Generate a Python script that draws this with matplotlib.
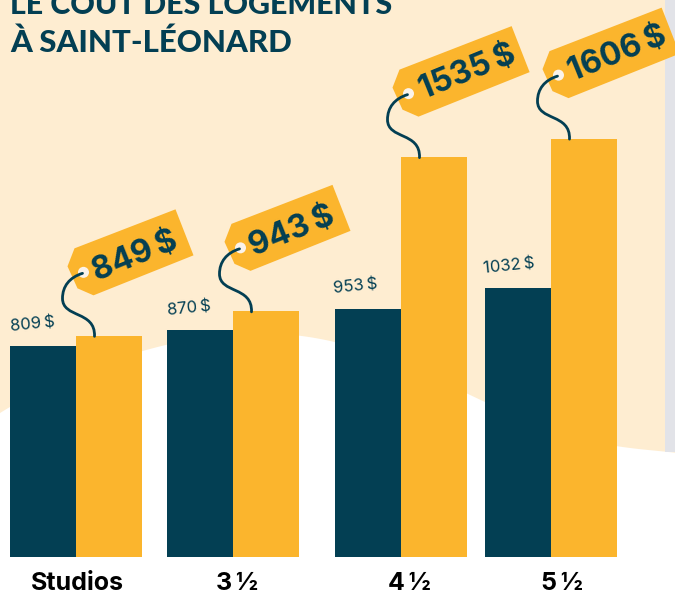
import numpy as np
import matplotlib
matplotlib.use('Agg')
import matplotlib.pyplot as plt
from matplotlib.patches import PathPatch, Polygon, Circle
from matplotlib.path import Path

categories = ['Studios', '3\u2009½', '4\u2009½', '5\u2009½']
loyer_2019 = [809, 870, 953, 1032]
loyer_marche = [849, 943, 1535, 1606]
labels_2019 = ['809\u2009$', '870\u2009$', '953\u2009$', '1032\u2009$']
labels_marche = ['849\u2009$', '943\u2009$', '1535\u2009$', '1606\u2009$']

DARK = '#033F53'
ORANGE = '#FBB52D'
CREAM = '#FEEDD1'
W, H = 675, 596
BASE = 557
SCALE = 0.2605  # pixels per dollar

group_x = np.array([76, 233, 401, 551])
bar_w = 66
cat_x = [77, 237, 409, 562]
small_x = [10, 167, 333, 483]
tag_length = [0, 0, 12, 12]

fig = plt.figure(figsize=(6.75, 5.96), dpi=100, facecolor='white')

# background, in pixels
bg = fig.add_axes([0, 0, 1, 1], zorder=0)
bg.set_xlim(0, W)
bg.set_ylim(H, 0)
bg.axis('off')

edge_x = [0, 10, 142, 167, 250, 299, 335, 467, 486, 617, 665, 675]
edge_y = [413, 407, 351, 345, 333, 336, 342, 393, 403, 446, 452, 452.5]
xx = np.linspace(0, 675, 200)
yy = np.polyval(np.polyfit(edge_x, edge_y, 7), xx)
bg.fill_between(xx, 0, yy, color=CREAM, lw=0)
bg.fill_between([665, 675], 0, 452, color='#E2E3E8', lw=0)

bg.text(10, 14, 'LE COÛT DES LOGEMENTS', family='Lato', weight='black', fontsize=21.9,
        color=DARK, va='baseline', ha='left')
bg.text(10, 52, 'À SAINT-LÉONARD', family='Lato', weight='black', fontsize=22.4,
        color=DARK, va='baseline', ha='left')

# bars
ax = fig.add_axes([0, (H - BASE) / H, 1, BASE / H], zorder=1)
ax.patch.set_alpha(0)
ax.set_xlim(0, W)
ax.set_ylim(0, BASE / SCALE)
ax.axis('off')
ax.bar(group_x - bar_w / 2, loyer_2019, bar_w, color=DARK, lw=0)
ax.bar(group_x + bar_w / 2, loyer_marche, bar_w, color=ORANGE, lw=0)

# tags and strings, in pixels
top = fig.add_axes([0, 0, 1, 1], zorder=2)
top.patch.set_alpha(0)
top.set_xlim(0, W)
top.set_ylim(H, 0)
top.axis('off')

string_codes = [Path.MOVETO, Path.CURVE4, Path.CURVE4, Path.CURVE4, Path.CURVE4, Path.CURVE4, Path.CURVE4]
ux, uy = np.cos(np.radians(22)), -np.sin(np.radians(22))

for i, x in enumerate(group_x):
    top_y = BASE - loyer_marche[i] * SCALE
    hx = x + 7.5
    hy = top_y - 63.5
    ext = tag_length[i]
    tag = [(-9, -24), (92 + ext * ux, -63 + ext * uy), (110 + ext * ux, -17 + ext * uy),
           (10, 23), (-6, 16), (-16, -6)]
    top.add_patch(Polygon([(hx + a, hy + b) for a, b in tag], closed=True, fc=ORANGE, ec='none'))
    top.add_patch(Circle((hx, hy), 5.5, fc='#FBF3EA', ec='none'))
    s = Path([(hx + a, hy + b) for a, b in [(-1, 1), (-14, 5), (-21, 14), (-21, 26),
                                            (-21, 46), (12, 38), (11, 64)]], string_codes)
    top.add_patch(PathPatch(s, fc='none', ec=DARK, lw=2, capstyle='round'))
    top.text(hx + 52 + ext * 0.6, hy - 16 - ext * 0.45, labels_marche[i],
             family='Inter', weight='bold', fontsize=23, color=DARK,
             rotation=22, rotation_mode='anchor', ha='center', va='center')

    dark_top = BASE - loyer_2019[i] * SCALE
    top.text(small_x[i], dark_top - 19.5, labels_2019[i], family='Inter', fontsize=12,
             color=DARK, rotation=6, rotation_mode='anchor', ha='left', va='center')
    top.text(cat_x[i], 583, categories[i], family='Inter', weight='bold', fontsize=18,
             color='black', ha='center', va='center')

fig.savefig('out.png', dpi=100)
